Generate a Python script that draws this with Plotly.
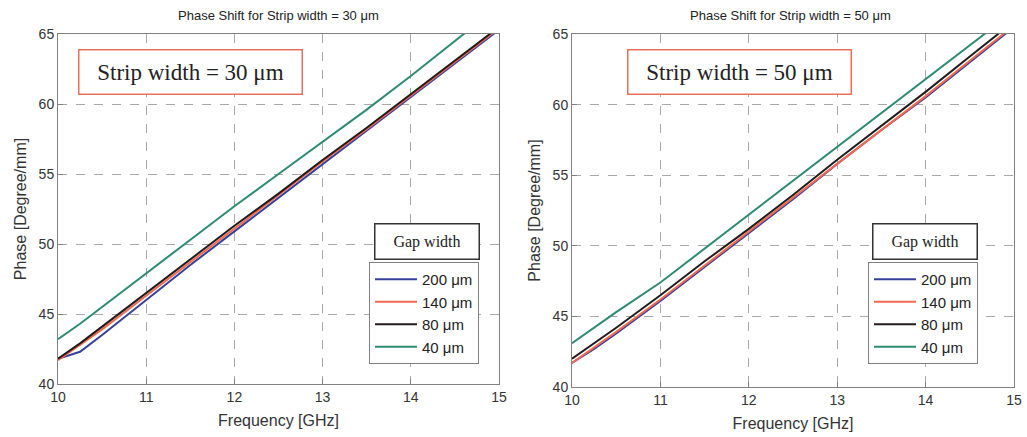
import plotly.graph_objects as go

freq = [10, 10.25, 10.5, 11, 11.5, 12, 12.5, 13, 13.5, 14, 14.5, 15]
gap_labels = ["200 μm", "140 μm", "80 μm", "40 μm"]

# Strip width = 30 um
s30_g200 = [41.8, 42.3, 43.5, 46.0, 48.5, 50.9, 53.3, 55.7, 58.1, 60.5, 62.9, 65.3]
s30_g140 = [41.7, 42.8, 43.9, 46.3, 48.7, 51.1, 53.5, 55.9, 58.2, 60.6, 63.0, 65.4]
s30_g80 = [41.8, 42.9, 44.1, 46.5, 48.9, 51.3, 53.6, 56.0, 58.3, 60.7, 63.1, 65.5]
s30_g40 = [43.2, 44.3, 45.5, 47.9, 50.3, 52.7, 55.0, 57.3, 59.6, 62.0, 64.5, 67.0]

# Strip width = 50 um
s50_g200 = [41.7, 42.7, 43.8, 46.1, 48.5, 50.9, 53.3, 55.8, 58.2, 60.5, 63.0, 65.5]
s50_g140 = [41.7, 42.8, 43.9, 46.2, 48.6, 51.0, 53.4, 55.8, 58.2, 60.6, 63.1, 65.6]
s50_g80 = [42.0, 43.1, 44.2, 46.5, 48.9, 51.2, 53.6, 56.1, 58.5, 60.9, 63.4, 65.9]
s50_g40 = [43.1, 44.2, 45.3, 47.4, 49.8, 52.2, 54.6, 57.0, 59.4, 61.8, 64.2, 66.6]

colors = ["#33419a", "#f2694f", "#231a1a", "#2f8a72"]

W, H = 1027, 437


def px(x):
    return x / W


def py(y):
    return 1 - y / H


fig = go.Figure()

left_series = [s30_g200, s30_g140, s30_g80, s30_g40]
right_series = [s50_g200, s50_g140, s50_g80, s50_g40]

for vals, lab, c in zip(left_series, gap_labels, colors):
    fig.add_trace(go.Scatter(x=freq, y=vals, mode="lines", name=lab,
                             line=dict(color=c, width=2), xaxis="x", yaxis="y",
                             legend="legend"))
for vals, lab, c in zip(right_series, gap_labels, colors):
    fig.add_trace(go.Scatter(x=freq, y=vals, mode="lines", name=lab,
                             line=dict(color=c, width=2), xaxis="x2", yaxis="y2",
                             legend="legend2"))

axis_common = dict(
    showline=True, linecolor="#808080", linewidth=1, mirror=True,
    showgrid=True, gridcolor="#a8a8a8", griddash="dash", gridwidth=1,
    ticks="inside", ticklen=5, tickcolor="#808080",
    tickfont=dict(family="Arial, Liberation Sans, sans-serif", size=14, color="#333333"),
    zeroline=False, automargin=False,
)
title_font = dict(family="Arial, Liberation Sans, sans-serif", size=16, color="#333333")
legend_font = dict(family="Arial, Liberation Sans, sans-serif", size=15, color="#222222")

fig.update_layout(
    width=W, height=H,
    margin=dict(l=0, r=0, t=0, b=0, autoexpand=False),
    paper_bgcolor="white", plot_bgcolor="white",
    xaxis=dict(domain=[px(58), px(499)], range=[10, 15], dtick=1, anchor="y",
               title=dict(text="Frequency [GHz]", font=title_font, standoff=11), **axis_common),
    yaxis=dict(domain=[py(384), py(34)], range=[40, 65], dtick=5, anchor="x",
               title=dict(text="Phase [Degree/mm]", font=title_font, standoff=8), **axis_common),
    xaxis2=dict(domain=[px(572), px(1014)], range=[10, 15], dtick=1, anchor="y2",
                title=dict(text="Frequency [GHz]", font=title_font, standoff=11), **axis_common),
    yaxis2=dict(domain=[py(387), py(34)], range=[40, 65], dtick=5, anchor="x2",
                title=dict(text="Phase [Degree/mm]", font=title_font, standoff=8), **axis_common),
    legend=dict(x=px(369), y=py(262), xanchor="left", yanchor="top",
                bgcolor="white", bordercolor="#808080", borderwidth=1,
                itemwidth=42, font=legend_font),
    legend2=dict(x=px(868), y=py(262), xanchor="left", yanchor="top",
                 bgcolor="white", bordercolor="#808080", borderwidth=1,
                 itemwidth=42, font=legend_font),
    showlegend=True,
)

tfont = dict(family="Arial, Liberation Sans, sans-serif", size=13, color="#222222")
serif = "Times New Roman, Liberation Serif, serif"
annots = [
    dict(text="Phase Shift for Strip width = 30 μm", x=px(278), y=py(15), font=tfont),
    dict(text="Phase Shift for Strip width = 50 μm", x=px(790), y=py(15), font=tfont),
    dict(text="Strip width = 30 μm", x=px(190.5), y=py(72),
         font=dict(family=serif, size=23, color="#222222"),
         width=222, height=43, borderpad=0,
         bordercolor="#e8705a", borderwidth=1.5, bgcolor="white"),
    dict(text="Strip width = 50 μm", x=px(739.5), y=py(72),
         font=dict(family=serif, size=23, color="#222222"),
         width=222, height=43, borderpad=0,
         bordercolor="#e8705a", borderwidth=1.5, bgcolor="white"),
    dict(text="Gap width", x=px(426.5), y=py(241),
         font=dict(family=serif, size=16, color="#222222"),
         width=103, height=34, borderpad=0,
         bordercolor="#333333", borderwidth=1.5, bgcolor="white"),
    dict(text="Gap width", x=px(925), y=py(241.5),
         font=dict(family=serif, size=16, color="#222222"),
         width=103, height=34, borderpad=0,
         bordercolor="#333333", borderwidth=1.5, bgcolor="white"),
]
for a in annots:
    fig.add_annotation(xref="paper", yref="paper", showarrow=False,
                       xanchor="center", yanchor="middle", **a)

fig.write_html(
    "out.html",
    config={"displayModeBar": False},
    post_script="document.body.style.margin='0';document.body.style.overflow='hidden';",
)
